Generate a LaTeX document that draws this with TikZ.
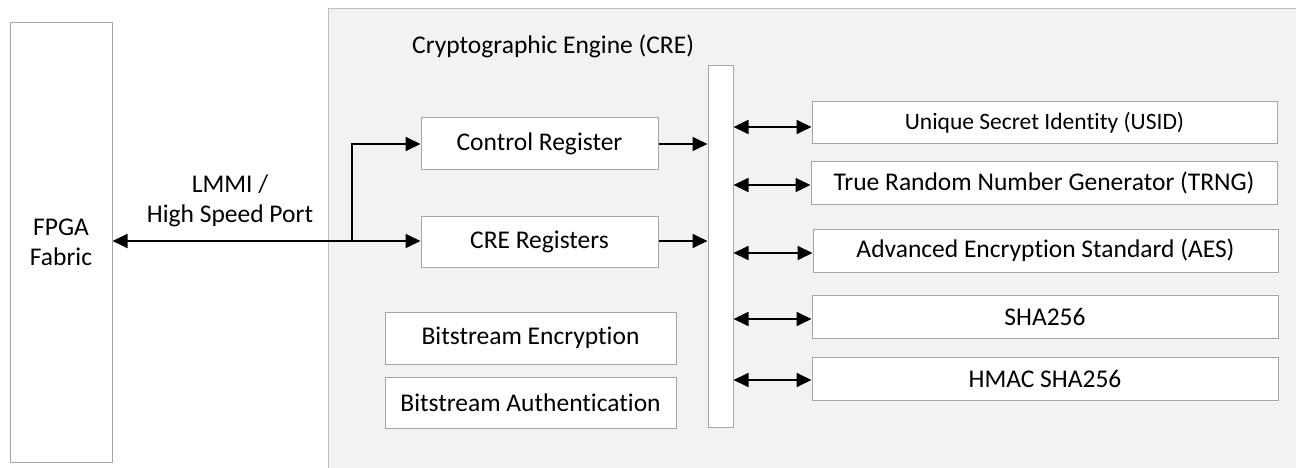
\documentclass[tikz,border=0pt]{standalone}
\usepackage{fontspec}
\setmainfont{Carlito}[Ligatures=NoCommon]
\usetikzlibrary{arrows.meta}
\begin{document}
\begin{tikzpicture}[x=1pt,y=-1pt,
  box/.style={draw=boxgray,line width=1pt,fill=white,inner sep=0pt,font=\fontsize{25.5}{30}\selectfont,align=center},
  conn/.style={line width=1.8pt,-{Triangle[length=15pt,width=14pt]}},
  bconn/.style={line width=1.8pt,{Triangle[length=15pt,width=14pt]}-{Triangle[length=15pt,width=14pt]}},
  lbl/.style={font=\fontsize{25.5}{30}\selectfont,align=center,inner sep=0pt}]
\definecolor{boxgray}{HTML}{A6A6A6}
\definecolor{crefill}{HTML}{F2F2F2}
\definecolor{creline}{HTML}{BFBFBF}
\useasboundingbox (0,0) rectangle (1296,468);
% CRE container
\fill[crefill] (328,9) rectangle (1300,472);
\draw[creline,line width=1pt] (328,472) -- (328,9) -- (1300,9);
\node[lbl,anchor=west] (title) at (412,46) {Cryptographic Engine (CRE)};
% FPGA
\node[box,minimum width=102,minimum height=439] (fpga) at (61,242.5) {FPGA\\Fabric};
% registers
\node[box,minimum width=237,minimum height=52] (ctrl) at (539.5,144) {Control Register};
\node[box,minimum width=237,minimum height=51] (crereg) at (539.5,241.5) {CRE Registers};
% bitstream
\node[box,minimum width=291,minimum height=52] (bsenc) at (530.5,338) {Bitstream Encryption};
\node[box,minimum width=291,minimum height=51] (bsauth) at (530.5,402.5) {Bitstream Authentication};
% bus
\node[box,minimum width=25,minimum height=361] (bus) at (720.5,246.5) {};
% right blocks
\node[box,minimum width=465,minimum height=42,font=\fontsize{23.5}{28}\selectfont] (usid) at (1044.5,123) {Unique Secret Identity (USID)};
\node[box,minimum width=466,minimum height=42] (trng) at (1044,183) {True Random Number Generator (TRNG)};
\node[box,minimum width=465,minimum height=43] (aes) at (1045.5,250.5) {Advanced Encryption Standard (AES)};
\node[box,minimum width=466,minimum height=43] (sha) at (1045,316.5) {SHA256};
\node[box,minimum width=466,minimum height=43] (hmac) at (1045,378.5) {HMAC SHA256};
% LMMI label
\node[lbl] (lmmi) at (230,201) {LMMI /\\High Speed Port};
% main connectors
\coordinate (split) at (352,241);
\draw[bconn] (fpga.east |- 0,241) -- (crereg.west |- 0,241);
\draw[conn] (split) |- (ctrl.west);
\draw[conn] (ctrl.east) -- (bus.west |- ctrl.east);
\draw[conn] (crereg.east |- 0,241) -- (bus.west |- 0,241);
% bus to blocks
\draw[bconn] (bus.east |- 0,127) -- (usid.west |- 0,127);
\draw[bconn] (bus.east |- 0,185) -- (trng.west |- 0,185);
\draw[bconn] (bus.east |- 0,253) -- (aes.west |- 0,253);
\draw[bconn] (bus.east |- 0,319) -- (sha.west |- 0,319);
\draw[bconn] (bus.east |- 0,380) -- (hmac.west |- 0,380);
\end{tikzpicture}
\end{document}
